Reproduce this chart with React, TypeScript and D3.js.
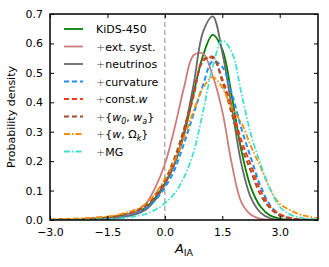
import React, { useEffect, useRef } from 'react';
import * as d3 from 'd3';

// A_IA grid the curves were read on
const aIA = [-3, -2.5, -2, -1.5, -1.25, -1, -0.75, -0.5, -0.25, 0, 0.25, 0.5, 0.75, 1, 1.25, 1.5, 1.75, 2, 2.25, 2.5, 2.75, 3, 3.25, 3.5, 3.75, 4];

const kids450 = [0, 0.001, 0.003, 0.008, 0.012, 0.018, 0.027, 0.042, 0.075, 0.125, 0.19, 0.29, 0.43, 0.56, 0.629, 0.58, 0.42, 0.235, 0.11, 0.045, 0.015, 0.005, 0.001, 0, 0, 0];
const extSyst = [0, 0, 0.001, 0.004, 0.008, 0.015, 0.03, 0.055, 0.11, 0.19, 0.31, 0.45, 0.56, 0.565, 0.49, 0.37, 0.19, 0.06, 0.018, 0.004, 0.001, 0, 0, 0, 0, 0];
const neutrinos = [0, 0, 0.001, 0.004, 0.007, 0.012, 0.02, 0.035, 0.068, 0.12, 0.19, 0.3, 0.46, 0.64, 0.692, 0.57, 0.38, 0.19, 0.075, 0.025, 0.006, 0.001, 0, 0, 0, 0];
const curvature = [0, 0.001, 0.003, 0.007, 0.011, 0.017, 0.026, 0.04, 0.068, 0.11, 0.17, 0.26, 0.36, 0.46, 0.54, 0.52, 0.43, 0.31, 0.21, 0.115, 0.05, 0.018, 0.006, 0.002, 0.001, 0];
const constW = [0.001, 0.002, 0.004, 0.009, 0.013, 0.02, 0.03, 0.048, 0.08, 0.13, 0.2, 0.3, 0.42, 0.545, 0.55, 0.48, 0.38, 0.27, 0.185, 0.1, 0.045, 0.02, 0.008, 0.003, 0.001, 0];
const w0wa = [0.001, 0.002, 0.004, 0.009, 0.014, 0.021, 0.032, 0.05, 0.085, 0.135, 0.21, 0.31, 0.43, 0.54, 0.555, 0.47, 0.36, 0.25, 0.165, 0.085, 0.04, 0.015, 0.006, 0.002, 0.001, 0];
const wOk = [0.002, 0.004, 0.007, 0.012, 0.017, 0.025, 0.036, 0.055, 0.09, 0.14, 0.2, 0.28, 0.37, 0.45, 0.485, 0.45, 0.38, 0.33, 0.25, 0.18, 0.105, 0.055, 0.035, 0.02, 0.012, 0.006];
const mg = [0, 0, 0.001, 0.003, 0.005, 0.008, 0.013, 0.02, 0.035, 0.057, 0.09, 0.145, 0.23, 0.37, 0.52, 0.61, 0.57, 0.43, 0.29, 0.19, 0.105, 0.045, 0.02, 0.009, 0.004, 0.002];

const xTicks = [-3, -1.5, 0, 1.5, 3];
const yTicks = [0, 0.1, 0.2, 0.3, 0.4, 0.5, 0.6, 0.7];

// legend pieces: [text, subscript, italic]
const legendLabels: [string, string, boolean][][] = [
  [['KiDS-450', '', false]],
  [['+', '', false], ['ext. syst.', '', false]],
  [['+', '', false], ['neutrinos', '', false]],
  [['+', '', false], ['curvature', '', false]],
  [['+', '', false], ['const.', '', false], ['w', '', true]],
  [['+', '', false], ['{', '', false], ['w', '0', true], [', ', '', false], ['w', 'a', true], ['}', '', false]],
  [['+', '', false], ['{', '', false], ['w', '', true], [', Ω', 'k', false], ['}', '', false]],
  [['+', '', false], ['MG', '', false]],
];

const series = [
  { key: 'kids', values: kids450, color: '#008000', dash: null, width: 1.8 },
  { key: 'ext', values: extSyst, color: '#cd7b7b', dash: null, width: 1.8 },
  { key: 'nu', values: neutrinos, color: '#696969', dash: null, width: 1.8 },
  { key: 'curv', values: curvature, color: '#1e90ff', dash: '5,3', width: 2 },
  { key: 'w', values: constW, color: '#ff3a12', dash: '5,3', width: 2 },
  { key: 'w0wa', values: w0wa, color: '#a0522d', dash: '5,3', width: 2 },
  { key: 'wok', values: wOk, color: '#ff8c00', dash: '6,2,1.5,2', width: 1.8 },
  { key: 'mg', values: mg, color: '#40e0d0', dash: '6,2,1.5,2', width: 1.8 },
];

const W = 329;
const H = 267;

const App: React.FC = () => {
  const svgRef = useRef<SVGSVGElement | null>(null);

  useEffect(() => {
    if (!svgRef.current) return;
    const svg = d3.select(svgRef.current);
    svg.selectAll('*').remove();

    const margin = { top: 14, right: 11, bottom: 47, left: 50 };
    const width = W - margin.left - margin.right;
    const height = H - margin.top - margin.bottom;
    const font = 'DejaVu Sans, sans-serif';

    const x = d3.scaleLinear().domain([-3, 4]).range([0, width]);
    const y = d3.scaleLinear().domain([0, 0.7]).range([height, 0]);

    const g = svg.append('g').attr('transform', `translate(${margin.left},${margin.top})`);

    svg.append('defs').append('clipPath').attr('id', 'plotclip')
      .append('rect').attr('width', width).attr('height', height);

    // dashed zero line
    g.append('line')
      .attr('x1', x(0)).attr('x2', x(0)).attr('y1', 0).attr('y2', height)
      .attr('stroke', '#888').attr('stroke-width', 1).attr('stroke-dasharray', '5,3');

    const line = d3.line<number>()
      .x((_, i) => x(aIA[i]))
      .y((d) => y(d))
      .curve(d3.curveCatmullRom.alpha(0.5));

    const curves = g.append('g').attr('clip-path', 'url(#plotclip)');
    series.forEach((s) => {
      curves.append('path')
        .attr('d', line(s.values))
        .attr('fill', 'none')
        .attr('stroke', s.color)
        .attr('stroke-width', s.width)
        .attr('stroke-dasharray', s.dash ?? null);
    });

    // axes with inward ticks on all sides
    const fmt = (d: d3.NumberValue) => d3.format('.1f')(+d).replace('-', '\u2212');
    const bottom = g.append('g').attr('transform', `translate(0,${height})`)
      .call(d3.axisBottom(x).tickValues(xTicks).tickSizeInner(-4).tickSizeOuter(0).tickPadding(8).tickFormat(fmt));
    const left = g.append('g')
      .call(d3.axisLeft(y).tickValues(yTicks).tickSizeInner(-4).tickSizeOuter(0).tickPadding(7).tickFormat(fmt));
    const top = g.append('g')
      .call(d3.axisTop(x).tickValues(xTicks).tickSizeInner(-4).tickSizeOuter(0).tickFormat(() => ''));
    const right = g.append('g').attr('transform', `translate(${width},0)`)
      .call(d3.axisRight(y).tickValues(yTicks).tickSizeInner(-4).tickSizeOuter(0).tickFormat(() => ''));
    [bottom, left].forEach((a) => {
      a.selectAll('text').style('font-family', font).style('font-size', '11px').attr('fill', '#000');
    });
    [top, right].forEach((a) => a.selectAll('text').remove());
    [bottom, left, top, right].forEach((a) => {
      a.select('.domain').remove();
      a.selectAll('line').attr('stroke', '#000').attr('stroke-width', 1);
    });

    g.append('rect')
      .attr('width', width).attr('height', height)
      .attr('fill', 'none').attr('stroke', '#000').attr('stroke-width', 1.5);

    // axis labels
    const xl = svg.append('text')
      .attr('x', margin.left + width / 2).attr('y', 253)
      .attr('text-anchor', 'middle')
      .style('font-family', font).style('font-size', '13px');
    xl.append('tspan').text('A').style('font-style', 'italic');
    xl.append('tspan').text('IA').attr('dy', 3).style('font-size', '9.5px');

    svg.append('text')
      .attr('transform', `translate(15,${margin.top + height / 2}) rotate(-90)`)
      .attr('text-anchor', 'middle')
      .style('font-family', font).style('font-size', '11px')
      .text('Probability density');

    // legend
    const leg = g.append('g').attr('transform', 'translate(14,15)');
    series.forEach((s, i) => {
      const row = leg.append('g').attr('transform', `translate(0,${i * 17.5})`);
      row.append('line')
        .attr('x1', 0).attr('x2', 19).attr('y1', 0).attr('y2', 0)
        .attr('stroke', s.color).attr('stroke-width', s.width)
        .attr('stroke-dasharray', s.dash ?? null);
      const t = row.append('text').attr('x', 32).attr('y', 4)
        .style('font-family', font).style('font-size', '11px');
      let shift = 0;
      legendLabels[i].forEach(([main, sub, ital]) => {
        const sp = t.append('tspan').text(main);
        if (shift) { sp.attr('dy', -shift); shift = 0; }
        if (main === '+') sp.attr('fill', '#444').style('font-weight', '300');
        if (ital) sp.style('font-style', 'italic');
        if (sub) {
          t.append('tspan').text(sub).attr('dy', 3).style('font-size', '8px').style('font-style', 'italic');
          shift = 3;
        }
      });
    });
  }, []);

  return (
    <div style={{ position: 'absolute', left: 0, top: 0 }}>
      <svg ref={svgRef} width={W} height={H} style={{ display: 'block', background: '#fff' }} />
    </div>
  );
};

export default App;
